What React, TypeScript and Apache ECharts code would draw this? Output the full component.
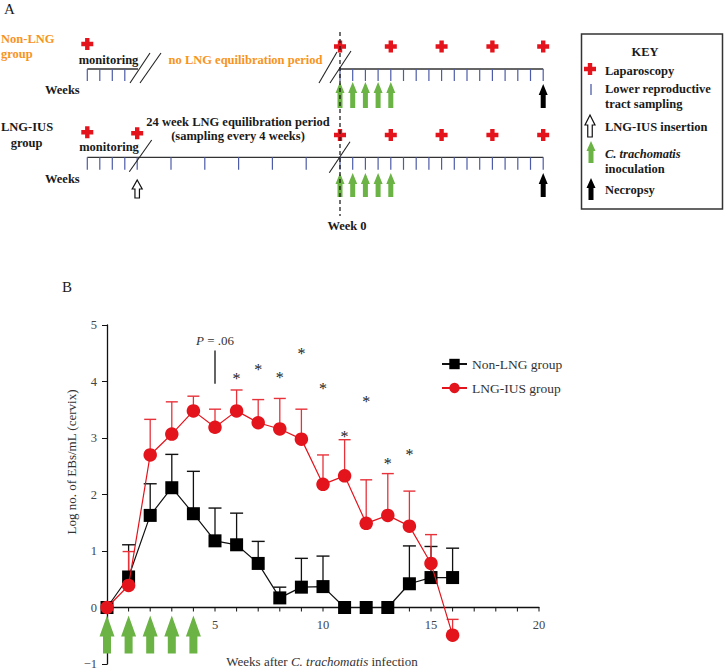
import React, { useEffect, useRef } from "react";
import * as echarts from "echarts";

// ---------- Panel B data ----------
const WEEKS = [0, 1, 2, 3, 4, 5, 6, 7, 8, 9, 10, 11, 12, 13, 14, 15, 16];
const NON_LNG = [0, 0.54, 1.63, 2.12, 1.66, 1.18, 1.11, 0.78, 0.17, 0.36, 0.37, 0, 0, 0, 0.42, 0.53, 0.53];
const NON_LNG_UPPER: (number | null)[] = [null, 1.11, 2.19, 2.71, 2.41, 1.76, 1.67, 1.17, 0.36, 0.87, 0.91, null, null, null, 1.09, 1.08, 1.05];
const LNG_IUS = [0, 0.39, 2.7, 3.07, 3.48, 3.19, 3.48, 3.27, 3.16, 2.98, 2.18, 2.33, 1.49, 1.63, 1.44, 0.78, -0.49];
const LNG_IUS_UPPER: (number | null)[] = [null, 0.99, 3.33, 3.64, 3.74, 3.51, 3.85, 3.68, 3.7, 3.51, 2.7, 2.97, 2.26, 2.37, 2.06, 1.29, -0.21];
const SIG_WEEKS = [6, 7, 8, 9, 10, 11, 12, 13, 14];
const SIG_Y = [4.13, 4.28, 4.14, 4.57, 3.95, 3.1, 3.71, 2.62, 2.77];
const P_ANNOT = [5, 3.96, 4.55, 4.72]; // week, line from, line to, label y
const INOCULATION_WEEKS = [0, 1, 2, 3, 4];
const X_TICK_WEEKS = [0, 1, 2, 3, 4, 5, 6, 7, 8, 9, 10, 11, 12, 13, 14, 15, 16, 17, 18, 19, 20];
const X_LABELS = [5, 10, 15, 20];
const SERIES_NAMES = ["Non-LNG group", "LNG-IUS group"];

// ---------- Panel A (schematic) data ----------
const SAMPLING_WEEKS = [0, 1, 2, 3, 4, 5, 6, 7, 8, 9, 10, 11, 12, 13, 14, 15, 16];
const LAPAROSCOPY_WEEKS = [0, 4, 8, 12, 16];
const EQUIL_SAMPLE_WEEKS = [-24, -20, -16, -12, -8, -4];
const MONITORING_TICKS = [0, 1, 2, 3];
const NECROPSY_WEEK = 16;

const SERIF = '"Liberation Serif", "Times New Roman", serif';
const RED = "#e3141c";
const RED_BAR = "#e8323a";
const GREEN = "#6ab344";
const ORANGE = "#f7941d";
const TICK_BLUE = "#4d5ca8";
const INK = "#1a1a1a";

// schematic geometry
const W0 = 340;
const WK = 12.7;
const EQ_WK = 33.8 / 4;
const MON_X0 = 87.3;
const MON_DX = 12.5;
const ROW_DY = 88.3;

function crossEl(cx: number, cy: number, s = 12, t = 4.4) {
  const a = s / 2, b = t / 2;
  return {
    type: "polygon",
    silent: true,
    shape: {
      points: [
        [cx - b, cy - a], [cx + b, cy - a], [cx + b, cy - b], [cx + a, cy - b], [cx + a, cy + b], [cx + b, cy + b],
        [cx + b, cy + a], [cx - b, cy + a], [cx - b, cy + b], [cx - a, cy + b], [cx - a, cy - b], [cx - b, cy - b],
      ],
    },
    style: { fill: RED },
  };
}

function arrowPoints(cx: number, top: number, bottom: number, headW: number, headH: number, shaftW: number) {
  const hw = headW / 2, sw = shaftW / 2;
  return [
    [cx, top], [cx + hw, top + headH], [cx + sw, top + headH], [cx + sw, bottom],
    [cx - sw, bottom], [cx - sw, top + headH], [cx - hw, top + headH],
  ];
}

function arrowEl(cx: number, top: number, bottom: number, fill: string, stroke?: string, headW = 9, headH = 11, shaftW = 5) {
  return {
    type: "polygon",
    silent: true,
    shape: { points: arrowPoints(cx, top, bottom, headW, headH, shaftW) },
    style: { fill, stroke: stroke || undefined, lineWidth: stroke ? 1.2 : 0 },
  };
}

function textEl(text: string, x: number, y: number, opts: any = {}) {
  return {
    type: "text",
    silent: true,
    x,
    y,
    style: {
      text,
      fill: opts.color || INK,
      fontFamily: SERIF,
      fontSize: opts.size || 12.5,
      fontWeight: opts.weight || "bold",
      fontStyle: opts.italic ? "italic" : "normal",
      align: opts.align || "left",
      verticalAlign: "middle",
      rich: opts.rich,
    },
  };
}

function lineEl(x1: number, y1: number, x2: number, y2: number, color = "#222", width = 1.2, dash?: number[]) {
  return {
    type: "line",
    silent: true,
    shape: { x1, y1, x2, y2 },
    style: { stroke: color, lineWidth: width, lineDash: dash },
  };
}

function buildPanelA() {
  const els: any[] = [];
  els.push(textEl("A", 4, 9, { weight: "normal", size: 15 }));

  // ---- row 1: Non-LNG ----
  const r1Line = 69;
  els.push(textEl("Non-LNG", 1, 39, { color: ORANGE }));
  els.push(textEl("group", 1, 53.5, { color: ORANGE }));
  els.push(crossEl(MON_X0, 44));
  els.push(textEl("monitoring", 108.5, 60, { align: "center" }));
  els.push(textEl("no LNG equilibration period", 245.5, 60, { align: "center", color: ORANGE }));
  els.push(lineEl(MON_X0, r1Line, 138, r1Line, "#333", 1.3));
  els.push(lineEl(W0, r1Line, W0 + WK * 16, r1Line, "#333", 1.3));
  MONITORING_TICKS.forEach((k) => els.push(lineEl(MON_X0 + MON_DX * k, r1Line, MON_X0 + MON_DX * k, r1Line + 12, TICK_BLUE, 1.2)));
  SAMPLING_WEEKS.forEach((w) => els.push(lineEl(W0 + WK * w, r1Line, W0 + WK * w, r1Line + 12, TICK_BLUE, 1.2)));
  els.push(lineEl(130, 83, 150, 53, "#222", 1.1));
  els.push(lineEl(140, 83, 161, 53, "#222", 1.1));
  els.push(lineEl(319, 83, 337, 52, "#222", 1.1));
  els.push(lineEl(330, 83, 351, 51, "#222", 1.1));
  LAPAROSCOPY_WEEKS.forEach((w) => els.push(crossEl(W0 + WK * w, 46.5)));
  INOCULATION_WEEKS.forEach((w) => els.push(arrowEl(W0 + WK * w, 82, 108, GREEN)));
  els.push(arrowEl(W0 + WK * NECROPSY_WEEK, 84, 108, "#000"));
  els.push(textEl("Weeks", 45, 90));

  // ---- row 2: LNG-IUS ----
  const r2Line = r1Line + ROW_DY;
  const insX = W0 + EQ_WK * EQUIL_SAMPLE_WEEKS[0];
  els.push(textEl("LNG-IUS", 1, 127));
  els.push(textEl("group", 26.5, 142.5, { align: "center" }));
  els.push(crossEl(MON_X0, 132.3));
  els.push(crossEl(insX, 133.3));
  els.push(textEl("monitoring", 109, 147, { align: "center" }));
  els.push(textEl("24 week LNG equilibration period", 238, 122, { align: "center" }));
  els.push(textEl("(sampling every 4 weeks)", 238, 136, { align: "center" }));
  els.push(lineEl(MON_X0, r2Line, W0 + WK * 16, r2Line, "#333", 1.3));
  MONITORING_TICKS.forEach((k) => els.push(lineEl(MON_X0 + MON_DX * k, r2Line, MON_X0 + MON_DX * k, r2Line + 12.5, TICK_BLUE, 1.2)));
  EQUIL_SAMPLE_WEEKS.forEach((w) => els.push(lineEl(W0 + EQ_WK * w, r2Line, W0 + EQ_WK * w, r2Line + 12.5, TICK_BLUE, 1.2)));
  SAMPLING_WEEKS.forEach((w) => els.push(lineEl(W0 + WK * w, r2Line, W0 + WK * w, r2Line + 12.5, TICK_BLUE, 1.2)));
  els.push(lineEl(129.3, 171.7, 151.7, 140, "#222", 1.1));
  els.push(lineEl(329.3, 172.7, 350, 141.7, "#222", 1.1));
  LAPAROSCOPY_WEEKS.forEach((w) => els.push(crossEl(W0 + WK * w, 135)));
  els.push(arrowEl(insX, 180, 198, "#fff", "#111", 10, 9, 4.5));
  INOCULATION_WEEKS.forEach((w) => els.push(arrowEl(W0 + WK * w, 173, 197, GREEN)));
  els.push(arrowEl(W0 + WK * NECROPSY_WEEK, 173, 197, "#000"));
  els.push(textEl("Weeks", 45, 179));

  // dashed week-0 line
  els.push(lineEl(W0, 32, W0, 216, "#111", 1.2, [4, 3]));
  els.push(textEl("Week 0", 347, 226, { align: "center" }));

  // ---- KEY box ----
  els.push({ type: "rect", silent: true, shape: { x: 581.5, y: 34, width: 141, height: 175 }, style: { fill: "none", stroke: "#333", lineWidth: 1.5 } });
  els.push(textEl("KEY", 645, 52, { align: "center" }));
  els.push(crossEl(590, 69));
  els.push(textEl("Laparoscopy", 605, 70.5));
  els.push(lineEl(591, 84, 591, 95, TICK_BLUE, 1.3));
  els.push(textEl("Lower reproductive", 605, 88.5));
  els.push(textEl("tract sampling", 605, 103.5));
  els.push(arrowEl(590, 115, 137, "#fff", "#111", 10, 10, 4.5));
  els.push(textEl("LNG-IUS insertion", 605, 127));
  els.push(arrowEl(591, 141, 163, GREEN, undefined, 9, 10, 5));
  els.push(textEl("C. trachomatis", 605, 154, { italic: true }));
  els.push(textEl("inoculation", 605, 169));
  els.push(arrowEl(591, 178, 200, "#000", undefined, 9, 10, 5));
  els.push(textEl("Necropsy", 605, 190));

  return els;
}

function errorBarSeries(id: string, values: number[], upper: (number | null)[], color: string, capW: number) {
  const data = WEEKS.map((w, i) => (upper[i] == null ? null : [w, values[i], upper[i] as number])).filter(Boolean);
  return {
    type: "custom",
    id,
    name: id,
    silent: true,
    data,
    renderItem: (_p: any, api: any) => {
      const x = api.value(0), v = api.value(1), u = api.value(2);
      const p0 = api.coord([x, v]);
      const p1 = api.coord([x, u]);
      return {
        type: "group",
        children: [
          { type: "line", shape: { x1: p0[0], y1: p0[1], x2: p1[0], y2: p1[1] }, style: { stroke: color, lineWidth: 1.3 } },
          { type: "line", shape: { x1: p1[0] - capW / 2, y1: p1[1], x2: p1[0] + capW / 2, y2: p1[1] }, style: { stroke: color, lineWidth: 1.4 } },
        ],
      };
    },
  };
}

export default function App() {
  const ref = useRef<HTMLDivElement>(null);
  useEffect(() => {
    if (!ref.current) return;
    const chart = echarts.init(ref.current, undefined, { renderer: "svg" });
    const option: any = {
      animation: false,
      backgroundColor: "#fff",
      textStyle: { fontFamily: SERIF },
      grid: { left: 107, top: 325, width: 432, height: 339, containLabel: false },
      legend: {
        data: SERIES_NAMES,
        orient: "vertical",
        left: 436,
        top: 352,
        itemWidth: 25,
        itemHeight: 13,
        itemGap: 10,
        textStyle: { fontFamily: SERIF, fontSize: 13.5, color: "#333" },
      },
      xAxis: {
        type: "value",
        min: 0,
        max: 20,
        interval: 1,
        axisLine: { onZero: true, lineStyle: { color: "#111", width: 1.3 } },
        axisTick: { show: false },
        axisLabel: { show: false },
        splitLine: { show: false },
      },
      yAxis: {
        type: "value",
        min: -1,
        max: 5,
        interval: 1,
        axisLine: { show: true, onZero: false, lineStyle: { color: "#111", width: 1.3 } },
        axisTick: { show: true, length: 5, lineStyle: { color: "#111" } },
        axisLabel: { margin: 10, fontSize: 12.5, color: "#444", fontFamily: SERIF, formatter: (v: number) => (v < 0 ? "\u2212" + Math.abs(v) : String(v)) },
        splitLine: { show: false },
      },
      graphic: [
        ...buildPanelA(),
        textEl("B", 62, 287, { weight: "normal", size: 15 }),
        {
          type: "text",
          silent: true,
          x: 71.5,
          y: 462,
          rotation: Math.PI / 2,
          style: { text: "Log no. of EBs/mL (cervix)", fill: "#333", fontFamily: SERIF, fontSize: 13, align: "center", verticalAlign: "middle" },
        },
        {
          type: "text",
          silent: true,
          x: 322,
          y: 661,
          style: {
            text: "{n|Weeks after }{i|C. trachomatis}{n| infection}",
            align: "center",
            verticalAlign: "middle",
            fill: "#333",
            fontFamily: SERIF,
            fontSize: 13,
            rich: {
              n: { fontFamily: SERIF, fontSize: 13, fill: "#333" },
              i: { fontFamily: SERIF, fontSize: 13, fontStyle: "italic", fill: "#333" },
            },
          },
        },
      ],
      series: [
        {
          type: "custom",
          name: "xTicks",
          silent: true,
          data: X_TICK_WEEKS.map((w) => [w, 0]),
          renderItem: (_p: any, api: any) => {
            const w = api.value(0);
            const c = api.coord([w, api.value(1)]);
            const children: any[] = [
              { type: "line", shape: { x1: c[0], y1: c[1], x2: c[0], y2: c[1] + 4 }, style: { stroke: "#111", lineWidth: 1 } },
            ];
            if (X_LABELS.indexOf(w) >= 0) {
              children.push({
                type: "text",
                x: c[0],
                y: c[1] + 17,
                style: { text: String(w), align: "center", verticalAlign: "middle", fill: "#444", fontFamily: SERIF, fontSize: 12.5 },
              });
            }
            return { type: "group", children };
          },
          z: 1,
        },
        errorBarSeries("nonLngErr", NON_LNG, NON_LNG_UPPER, "#111", 13),
        errorBarSeries("lngErr", LNG_IUS, LNG_IUS_UPPER, RED_BAR, 12),
        {
          name: SERIES_NAMES[0],
          type: "line",
          data: WEEKS.map((w, i) => [w, NON_LNG[i]]),
          symbol: "rect",
          symbolSize: 13,
          itemStyle: { color: "#000" },
          lineStyle: { color: "#111", width: 1.2 },
          z: 3,
        },
        {
          name: SERIES_NAMES[1],
          type: "line",
          data: WEEKS.map((w, i) => [w, LNG_IUS[i]]),
          symbol: "circle",
          symbolSize: 13.5,
          itemStyle: { color: RED },
          lineStyle: { color: RED, width: 1.2 },
          z: 4,
        },
        {
          type: "custom",
          name: "sig",
          silent: true,
          itemStyle: { color: "#333" },
          data: SIG_WEEKS.map((w, i) => [w, SIG_Y[i]]),
          renderItem: (_p: any, api: any) => {
            const c = api.coord([api.value(0), api.value(1)]);
            return {
              type: "group",
              children: [
                {
                  type: "text",
                  x: c[0],
                  y: c[1] + 4,
                  rotation: 0.0005,
                  style: { text: "*", align: "center", verticalAlign: "middle", fill: "#222", fontFamily: SERIF, fontSize: 16 },
                },
              ],
            };
          },
          z: 5,
        },
        {
          type: "custom",
          name: "pAnnot",
          silent: true,
          data: [P_ANNOT],
          renderItem: (_p: any, api: any) => {
            const w = api.value(0);
            const a = api.coord([w, api.value(1)]);
            const b = api.coord([w, api.value(2)]);
            const t = api.coord([w, api.value(3)]);
            return {
              type: "group",
              children: [
                { type: "line", shape: { x1: a[0], y1: a[1], x2: b[0], y2: b[1] }, style: { stroke: "#111", lineWidth: 1.3 } },
                {
                  type: "text",
                  x: t[0],
                  y: t[1],
                  style: {
                    text: "{i|P} = .06",
                    align: "center",
                    verticalAlign: "middle",
                    fill: "#333",
                    fontFamily: SERIF,
                    fontSize: 13,
                    rich: { i: { fontStyle: "italic", fontFamily: SERIF, fontSize: 13, fill: "#333" } },
                  },
                },
              ],
            };
          },
        },
        {
          type: "custom",
          name: "inoculation",
          silent: true,
          data: INOCULATION_WEEKS.map((w) => [w, 0]),
          renderItem: (_p: any, api: any) => {
            const c = api.coord([api.value(0), api.value(1)]);
            return {
              type: "polygon",
              shape: { points: arrowPoints(c[0], c[1] + 8, c[1] + 46, 15, 21, 8) },
              style: { fill: GREEN },
            };
          },
          z: 1,
        },
      ],
    };
    chart.setOption(option);
    return () => chart.dispose();
  }, []);
  return <div ref={ref} style={{ position: "fixed", left: 0, top: 0, width: 727, height: 672, background: "#fff" }} />;
}
